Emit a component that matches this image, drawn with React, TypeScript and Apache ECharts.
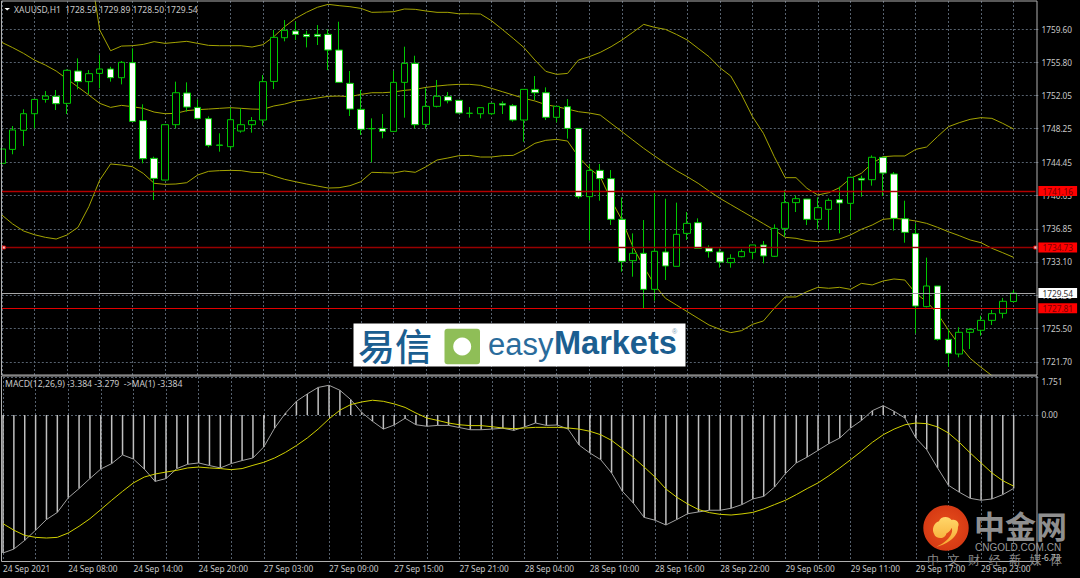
import React, { useEffect, useRef } from "react";
import * as echarts from "echarts";

const tickLabels = ["24 Sep 2021","24 Sep 08:00","24 Sep 14:00","24 Sep 20:00","27 Sep 03:00","27 Sep 09:00","27 Sep 15:00","27 Sep 21:00","28 Sep 04:00","28 Sep 10:00","28 Sep 16:00","28 Sep 22:00","29 Sep 05:00","29 Sep 11:00","29 Sep 17:00","29 Sep 23:00"];
const priceTicks = [1721.70,1725.50,1729.30,1733.10,1736.85,1740.65,1744.45,1748.25,1752.05,1755.80,1759.60];
const macdTicks = [-6.73,0,1.751];

const opens = [
1744.31,1745.90,1748.07,1749.96,1751.59,1751.94,1751.14,1754.82,1753.61,1754.55,
1755.05,1754.06,1755.77,1749.17,1744.88,1742.41,1748.71,1752.32,1750.68,1749.39,
1746.40,1746.21,1747.99,1748.71,1749.24,1753.64,1758.61,1759.37,1758.99,1758.99,
1758.99,1757.21,1753.42,1750.46,1748.25,1748.29,1747.95,1753.53,1755.69,1748.75,
1750.80,1751.90,1751.48,1750.02,1749.96,1749.96,1751.10,1750.87,1749.24,1752.73,
1752.35,1749.55,1750.76,1748.29,1740.52,1743.51,1742.57,1737.94,1733.23,1734.07,
1729.97,1734.22,1732.59,1736.34,1737.56,1734.68,1734.22,1733.01,1733.69,1734.18,
1735.02,1733.73,1736.91,1739.84,1740.25,1737.94,1739.08,1740.18,1739.76,1742.60,
1742.45,1745.00,1743.10,1738.01,1736.31,1728.00,1730.35,1724.28,1722.61,1725.08,
1725.31,1726.44,1727.24,1728.59];
const closes = [
1745.94,1748.11,1749.96,1751.59,1751.97,1751.10,1754.90,1753.61,1754.52,1755.05,
1754.06,1755.81,1749.09,1744.84,1742.60,1748.71,1752.35,1750.72,1749.43,1746.36,
1746.36,1749.28,1748.71,1749.17,1753.61,1758.65,1759.45,1758.99,1758.73,1758.77,
1757.21,1753.53,1750.49,1748.18,1748.27,1747.95,1753.53,1755.69,1748.71,1750.80,
1751.94,1751.44,1750.04,1750.00,1750.65,1751.14,1750.95,1749.24,1752.73,1752.35,
1749.55,1750.80,1748.29,1740.52,1743.51,1742.57,1737.94,1733.16,1734.07,1729.97,
1734.30,1732.63,1736.23,1737.48,1734.64,1734.26,1733.08,1733.50,1734.26,1735.02,
1733.77,1736.91,1739.84,1740.29,1737.94,1739.27,1740.10,1739.80,1742.72,1742.41,
1745.00,1743.21,1738.05,1736.46,1728.07,1730.35,1724.28,1722.69,1725.08,1725.42,
1726.44,1727.20,1728.61,1729.54];
const lows = [
1744.20,1745.34,1746.28,1748.29,1751.22,1750.38,1749.93,1752.73,1752.20,1752.85,
1753.61,1753.30,1749.09,1744.31,1740.14,1742.41,1748.29,1750.19,1749.32,1746.13,
1745.64,1745.94,1747.80,1747.80,1748.60,1752.77,1758.20,1758.35,1757.51,1757.78,
1754.93,1753.53,1749.70,1747.54,1744.43,1747.16,1747.95,1749.51,1748.29,1748.22,
1750.68,1751.14,1750.00,1749.51,1749.43,1749.81,1749.93,1749.05,1746.78,1751.52,
1749.24,1748.98,1747.12,1740.29,1735.51,1740.06,1737.29,1731.98,1731.41,1727.81,
1728.68,1731.03,1732.59,1735.59,1734.64,1733.58,1732.44,1732.44,1733.61,1733.39,
1732.93,1733.65,1735.97,1738.77,1737.29,1736.80,1736.72,1736.34,1737.86,1740.52,
1741.77,1740.59,1736.65,1735.28,1724.96,1727.92,1724.13,1721.17,1722.23,1723.18,
1724.70,1725.91,1726.67,1728.50];
const highs = [
1746.97,1748.56,1750.46,1751.59,1752.54,1752.66,1755.01,1756.26,1754.93,1756.64,
1755.31,1755.96,1757.40,1751.03,1745.07,1748.71,1753.61,1753.53,1751.59,1749.66,
1747.73,1750.65,1750.57,1749.58,1754.36,1759.49,1760.62,1760.43,1759.41,1760.05,
1759.56,1760.43,1754.82,1752.66,1749.43,1749.93,1754.82,1757.59,1756.56,1752.85,
1753.80,1752.43,1751.48,1750.72,1750.65,1751.14,1751.37,1751.06,1752.73,1754.25,
1752.96,1750.80,1751.63,1748.29,1744.24,1744.24,1743.55,1740.44,1736.34,1737.86,
1740.90,1740.29,1739.84,1738.77,1738.05,1734.98,1734.60,1733.96,1734.52,1735.02,
1735.47,1737.37,1741.28,1740.67,1740.25,1740.44,1740.33,1741.66,1742.79,1742.91,
1745.22,1745.00,1743.32,1740.06,1737.48,1733.58,1730.35,1725.50,1725.65,1725.53,
1726.97,1727.62,1728.99,1729.89];

const bandUpper = [
1777.73,1777.54,1777.05,1775.95,1775.12,1773.94,1773.52,1771.63,1767.45,1759.49,
1757.13,1757.66,1757.70,1757.85,1758.16,1757.97,1758.08,1758.20,1757.97,1757.74,
1757.70,1757.70,1757.70,1757.55,1757.82,1758.73,1759.87,1760.81,1761.50,1762.07,
1762.41,1762.26,1762.14,1761.95,1761.50,1761.53,1761.57,1761.88,1761.84,1761.65,
1761.50,1761.50,1761.34,1761.34,1761.31,1760.55,1759.56,1758.54,1757.48,1756.07,
1754.78,1754.44,1754.55,1756.07,1756.45,1756.94,1757.59,1758.35,1759.22,1760.13,
1759.79,1759.56,1758.99,1758.35,1757.40,1756.45,1755.20,1754.25,1752.09,1749.62,
1747.73,1745.07,1742.68,1742.68,1741.47,1740.71,1740.97,1741.54,1742.60,1743.17,
1744.31,1745.07,1745.15,1745.15,1745.90,1746.17,1747.35,1748.48,1748.94,1749.32,
1749.51,1749.43,1748.86,1748.22];
const bandMiddle = [
1758.08,1757.48,1756.83,1756.07,1755.50,1754.82,1753.91,1753.00,1752.09,1751.14,
1750.68,1750.91,1750.76,1750.57,1750.15,1749.96,1750.00,1750.31,1750.42,1750.49,
1750.57,1750.65,1750.57,1750.49,1750.46,1750.84,1751.06,1751.41,1751.56,1751.75,
1751.94,1751.97,1751.90,1752.16,1752.35,1752.35,1752.43,1752.62,1752.73,1752.96,
1753.11,1753.23,1753.30,1753.30,1753.19,1752.85,1752.47,1752.09,1751.71,1751.41,
1750.99,1750.76,1750.49,1750.19,1750.04,1749.81,1748.86,1747.92,1746.97,1746.02,
1745.15,1744.31,1743.48,1742.79,1742.04,1741.16,1740.33,1739.61,1738.89,1738.17,
1737.45,1736.72,1735.89,1735.78,1735.51,1735.40,1735.47,1735.70,1736.16,1736.80,
1737.29,1737.94,1738.05,1737.94,1737.75,1737.48,1737.03,1736.53,1736.08,1735.59,
1735.28,1734.64,1734.14,1733.61];
const bandLower = [
1738.43,1737.41,1736.61,1736.19,1735.89,1735.70,1736.16,1737.03,1739.38,1742.41,
1744.24,1744.12,1743.93,1743.17,1742.04,1741.92,1741.96,1742.11,1742.98,1743.40,
1743.48,1743.51,1743.48,1743.29,1743.25,1742.87,1742.49,1742.22,1741.96,1741.73,
1741.50,1741.54,1741.77,1742.22,1743.29,1743.25,1743.21,1743.44,1743.29,1743.93,
1744.69,1744.92,1745.18,1745.22,1745.03,1745.03,1745.18,1745.22,1745.83,1746.59,
1746.93,1747.04,1746.85,1745.07,1743.74,1742.79,1740.14,1737.86,1734.83,1732.55,
1730.47,1728.95,1728.19,1727.43,1726.67,1725.91,1725.42,1725.04,1725.27,1725.99,
1726.37,1727.81,1729.10,1729.10,1729.71,1730.20,1730.09,1730.20,1729.97,1730.65,
1730.47,1730.92,1731.15,1731.03,1729.52,1728.57,1727.24,1725.34,1723.64,1722.12,
1721.10,1720.15,1719.08,1718.14];

const macdValues = [
-6.36,-6.18,-5.78,-5.31,-4.82,-4.49,-3.82,-3.39,-2.93,-2.49,
-2.24,-1.84,-2.03,-2.49,-3.06,-2.93,-2.47,-2.27,-2.21,-2.33,
-2.44,-2.24,-2.10,-1.98,-1.47,-0.60,0.09,0.63,0.97,1.27,
1.37,1.14,0.71,0.12,-0.29,-0.65,-0.46,-0.15,-0.45,-0.52,
-0.48,-0.48,-0.58,-0.68,-0.68,-0.65,-0.61,-0.71,-0.55,-0.37,
-0.48,-0.46,-0.65,-1.38,-1.75,-2.06,-2.67,-3.52,-4.06,-4.72,
-4.85,-5.07,-4.82,-4.55,-4.47,-4.39,-4.39,-4.30,-4.13,-3.87,
-3.75,-3.32,-2.70,-2.21,-1.94,-1.63,-1.32,-1.06,-0.60,-0.25,
0.20,0.43,0.17,-0.14,-1.06,-1.60,-2.44,-3.24,-3.56,-3.84,
-3.93,-3.87,-3.67,-3.384];
const signalValues = [
-5.01,-5.31,-5.55,-5.64,-5.67,-5.64,-5.44,-5.13,-4.78,-4.36,
-3.93,-3.52,-3.13,-2.86,-2.72,-2.63,-2.55,-2.44,-2.40,-2.44,
-2.47,-2.52,-2.47,-2.32,-2.18,-1.98,-1.72,-1.41,-1.06,-0.65,
-0.18,0.22,0.48,0.60,0.68,0.63,0.51,0.35,0.09,-0.14,
-0.25,-0.37,-0.45,-0.49,-0.49,-0.54,-0.60,-0.63,-0.60,-0.57,
-0.57,-0.57,-0.60,-0.65,-0.75,-0.91,-1.17,-1.55,-1.95,-2.40,
-2.86,-3.41,-3.79,-4.10,-4.36,-4.50,-4.58,-4.61,-4.56,-4.49,
-4.33,-4.13,-3.93,-3.67,-3.39,-3.13,-2.80,-2.44,-2.06,-1.67,
-1.26,-0.91,-0.65,-0.45,-0.37,-0.40,-0.55,-0.83,-1.26,-1.75,
-2.21,-2.67,-3.03,-3.279];

const levelRed = [1741.16, 1727.81];
const levelAlert = 1734.73;
const lastPrice = 1729.54;
const headerText = "XAUUSD,H1  1728.59 1729.89 1728.50 1729.54";
const macdText = "MACD(12,26,9) -3.384 -3.279  ->MA(1) -3.384";
const watermarkChars = ["中","文","财","经","新","媒","体"];

const BAR_COUNT = 96; // two empty slots keep the right margin of the terminal
const categories = Array.from({ length: BAR_COUNT }, (_, i) => (i % 6 === 0 ? tickLabels[i / 6] ?? "" : ""));
const candles = opens.map((o, i) => [o, closes[i], lows[i], highs[i]]);

const UI_FONT = "Noto Sans";
const AXIS_FONT_SIZE = 8.3;
const GRID_COLOR = "#56616e";
const TEXT_COLOR = "#c8c8c8";
const FRAME = "#b0b0b0";
const LABEL_INK = "#7a0000";

echarts.graphic.registerShape(
  "cngoldSwirl",
  echarts.graphic.extendPath(
    "M58 157C92 150 130 128 129 96C136 84 124 70 110 75C100 61 76 64 72 79C56 84 50 104 57 116C62 132 86 134 93 119C100 105 86 90 73 99C82 97 89 108 81 116C72 122 64 116 68 106L62 112C76 128 104 116 110 98C118 118 92 146 58 157Z",
    {}
  )
);

function labelLine(value: number, lineColor: string, bg: string, textColor: string, width: number) {
  return {
    yAxis: value,
    lineStyle: { color: lineColor, width, type: "solid" },
    label: {
      show: true,
      position: "end",
      distance: 3,
      formatter: value.toFixed(2),
      backgroundColor: bg,
      color: textColor,
      fontFamily: UI_FONT,
      fontSize: AXIS_FONT_SIZE,
      padding: [1, 4, 1, 4],
    },
  };
}

export default function App() {
  const ref = useRef<HTMLDivElement>(null);
  useEffect(() => {
    document.body.style.background = "#000";
    const chart = echarts.init(ref.current!, undefined, { renderer: "svg" });
    const xBase = {
      type: "category",
      data: categories,
      boundaryGap: false,
      axisLine: { show: false },
      splitLine: { show: true, interval: 2, lineStyle: { color: GRID_COLOR, type: [2, 2], width: 1 } },
    };
    const bandLine = { color: "#a4a400", width: 1 };
    chart.setOption({
      animation: false,
      backgroundColor: "#000",
      grid: [
        { left: 1.8, top: 1, width: 1033.6, height: 374, containLabel: false },
        { left: 1.8, top: 377, width: 1033.6, height: 184, containLabel: false },
      ],
      xAxis: [
        { ...xBase, gridIndex: 0, axisTick: { show: false }, axisLabel: { show: false } },
        {
          ...xBase,
          gridIndex: 1,
          axisTick: { show: true, interval: 5, length: 3, lineStyle: { color: FRAME } },
          axisLabel: {
            show: true,
            interval: 5,
            align: "left",
            margin: 3,
            color: TEXT_COLOR,
            fontFamily: UI_FONT,
            fontSize: AXIS_FONT_SIZE,
          },
        },
      ],
      yAxis: [
        {
          type: "value",
          gridIndex: 0,
          position: "right",
          min: 1720.22,
          max: 1762.79,
          axisLine: { show: false },
          axisTick: { show: true, length: 3, customValues: priceTicks, lineStyle: { color: GRID_COLOR } },
          splitLine: { show: true, lineStyle: { color: GRID_COLOR, type: [2, 2], width: 1 } },
          axisLabel: {
            margin: 6,
            color: TEXT_COLOR,
            fontFamily: UI_FONT,
            fontSize: AXIS_FONT_SIZE,
            customValues: priceTicks,
            formatter: (v: number) => v.toFixed(2),
          },
        },
        {
          type: "value",
          gridIndex: 1,
          position: "right",
          min: macdTicks[0],
          max: macdTicks[2],
          axisLine: { show: false },
          axisTick: { show: true, length: 3, customValues: macdTicks, lineStyle: { color: GRID_COLOR } },
          splitLine: { show: true, lineStyle: { color: GRID_COLOR, type: [2, 2], width: 1 } },
          axisLabel: {
            margin: 6,
            color: TEXT_COLOR,
            fontFamily: UI_FONT,
            fontSize: AXIS_FONT_SIZE,
            customValues: macdTicks,
            verticalAlignMinLabel: "bottom",
            verticalAlignMaxLabel: "top",
            formatter: (v: number) => (v === 0 ? "0.00" : v > 0 ? v.toFixed(3) : v.toFixed(2)),
          },
        },
      ],
      series: [
        { type: "line", name: "upper", data: bandUpper, showSymbol: false, lineStyle: bandLine, z: 3 },
        { type: "line", name: "middle", data: bandMiddle, showSymbol: false, lineStyle: bandLine, z: 3 },
        { type: "line", name: "lower", data: bandLower, showSymbol: false, lineStyle: bandLine, z: 3 },
        {
          type: "candlestick",
          name: "XAUUSD",
          data: candles,
          barWidth: 7,
          z: 4,
          itemStyle: {
            color: "#000",
            color0: "#fff",
            borderColor: "#00c800",
            borderColor0: "#00c800",
            borderWidth: 1,
          },
          markLine: {
            silent: true,
            symbol: "none",
            precision: 2,
            data: [
              labelLine(levelRed[0], "#b40000", "#ff0000", LABEL_INK, 1.4),
              labelLine(levelAlert, "#980000", "#ff0000", LABEL_INK, 1.4),
              labelLine(levelRed[1], "#e00000", "#ff0000", LABEL_INK, 1.2),
              labelLine(lastPrice, "#a8a8a8", "#ffffff", "#333333", 1.2),
            ],
          },
        },
        {
          type: "scatter",
          name: "alert",
          clip: false,
          symbol: "rect",
          symbolSize: 3,
          itemStyle: { color: "#fff", borderColor: "#ff0000", borderWidth: 1 },
          data: [
            { value: [0, levelAlert], symbolOffset: [2, 0] },
            { value: [BAR_COUNT - 1, levelAlert] },
          ],
          z: 6,
        },
        {
          type: "bar",
          name: "MACD",
          xAxisIndex: 1,
          yAxisIndex: 1,
          data: macdValues,
          barWidth: 1.5,
          itemStyle: { color: "#c0c0c0" },
          z: 2,
        },
        {
          type: "line",
          name: "MA(1)",
          xAxisIndex: 1,
          yAxisIndex: 1,
          data: macdValues,
          showSymbol: false,
          lineStyle: { color: "#a0a0a0", width: 1 },
          z: 3,
        },
        {
          type: "line",
          name: "Signal",
          xAxisIndex: 1,
          yAxisIndex: 1,
          data: signalValues,
          showSymbol: false,
          lineStyle: { color: "#d0d000", width: 1 },
          z: 4,
        },
      ],
      graphic: [
        // terminal frame
        { type: "rect", z: 20, silent: true, shape: { x: 1.5, y: 1, width: 1035.5, height: 374 }, style: { fill: "none", stroke: FRAME, lineWidth: 1 } },
        { type: "rect", z: 20, silent: true, shape: { x: 1.5, y: 376, width: 1035.5, height: 185.5 }, style: { fill: "none", stroke: FRAME, lineWidth: 1 } },
        // captions
        { type: "polygon", z: 21, silent: true, shape: { points: [[4.5, 8], [10, 8], [7.2, 10.5]] }, style: { fill: "#fff" } },
        { type: "text", z: 21, silent: true, x: 14, y: 9, style: { text: headerText, fill: TEXT_COLOR, font: `8.5px "${UI_FONT}"`, verticalAlign: "middle" } },
        { type: "text", z: 21, silent: true, x: 5, y: 384, style: { text: macdText, fill: TEXT_COLOR, font: `8.7px "${UI_FONT}"`, verticalAlign: "middle" } },
        // easyMarkets banner
        { type: "rect", z: 30, silent: true, shape: { x: 353.5, y: 323.5, width: 332, height: 43 }, style: { fill: "#fff" } },
        { type: "text", z: 31, silent: true, x: 358, y: 345, style: { text: "易信", fill: "#1b5e90", font: `500 37px "Noto Sans CJK SC"`, verticalAlign: "middle" } },
        { type: "rect", z: 31, silent: true, shape: { x: 444.5, y: 328.7, width: 35.5, height: 35.5, r: 3 }, style: { fill: "#8fbe57" } },
        { type: "circle", z: 32, silent: true, shape: { cx: 462.2, cy: 346.5, r: 9 }, style: { fill: "#fff" } },
        { type: "text", z: 31, silent: true, x: 488, y: 344, style: { text: "easy", fill: "#2a6c9c", font: `31px "Liberation Sans"`, verticalAlign: "middle" } },
        { type: "text", z: 31, silent: true, x: 554, y: 343, style: { text: "Markets", fill: "#1b5e90", font: `bold 32.5px "Liberation Sans"`, verticalAlign: "middle" } },
        { type: "text", z: 31, silent: true, x: 672, y: 331, style: { text: "®", fill: "#7a9bb5", font: `7px "Liberation Sans"`, verticalAlign: "middle" } },
        // CNGOLD watermark
        {
          type: "circle", z: 40, silent: true, shape: { cx: 946, cy: 528, r: 22.7 },
          style: { fill: new echarts.graphic.RadialGradient(0.5, 0.5, 0.5, [{ offset: 0, color: "#e8501c" }, { offset: 1, color: "#d63a14" }]) },
        },
        {
          type: "cngoldSwirl", z: 41, silent: true, x: 915, y: 495, scaleX: 1 / 3, scaleY: 1 / 3,
          style: { fill: new echarts.graphic.LinearGradient(0, 0, 0, 1, [{ offset: 0, color: "#ffd76a" }, { offset: 1, color: "#f6a62e" }]) },
        },
        { type: "text", z: 41, silent: true, x: 974, y: 524.5, style: { text: "中金网", fill: "#8f8f8f", font: `bold 31px "Noto Sans CJK SC"`, verticalAlign: "middle" } },
        { type: "text", z: 41, silent: true, x: 975, y: 547, style: { text: "CNGOLD.COM.CN", fill: "#9a9a9a", font: `10px "Liberation Sans"`, verticalAlign: "middle" } },
        ...watermarkChars.map((ch, i) => ({
          type: "text", z: 41, silent: true, x: 927 + i * 20.5, y: 559,
          style: { text: ch, fill: "#8a8a8a", font: `12px "Noto Sans CJK SC"`, verticalAlign: "middle" },
        })),
      ],
    });
    return () => chart.dispose();
  }, []);
  return <div ref={ref} style={{ position: "fixed", left: 0, top: 0, width: 1080, height: 578 }} />;
}
